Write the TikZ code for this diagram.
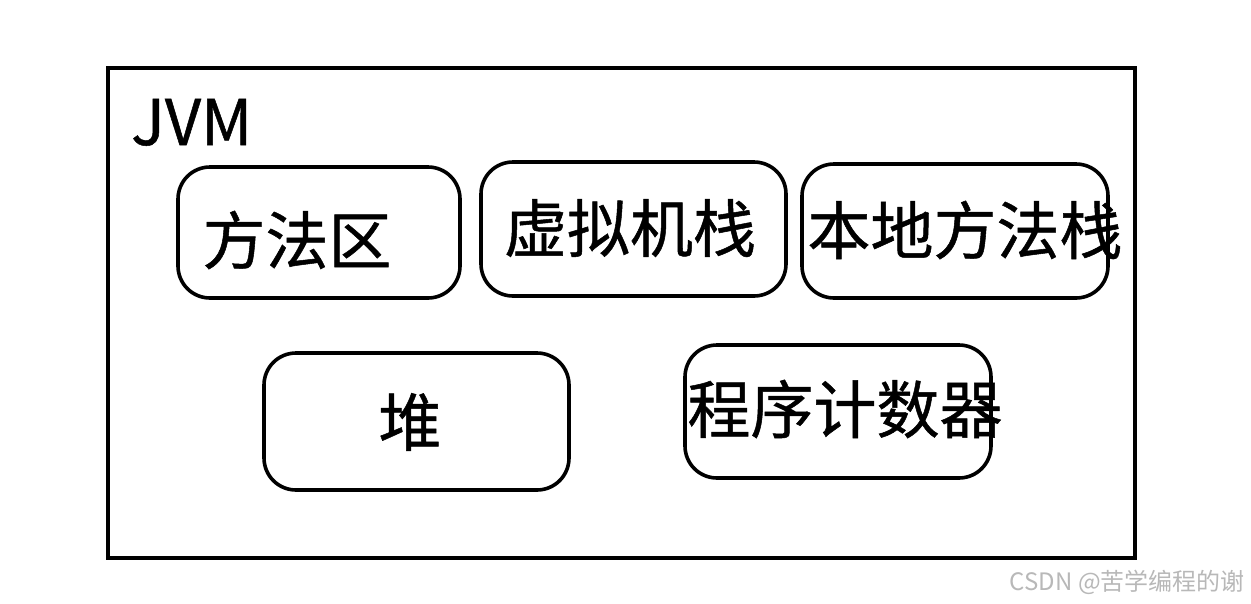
\documentclass[tikz,border=0pt]{standalone}
\usepackage{fontspec}
\setmainfont{Noto Sans CJK SC}
\newfontfamily\jfont{Noto Sans CJK SC}[FakeBold=0.8]
\usetikzlibrary{positioning}
\tikzset{
  jframe/.style ={draw, line width=4pt, inner sep=0pt},
  jarea/.style  ={draw, line width=3.6pt, rounded corners=32pt, inner sep=0pt},
  jtext/.style  ={inner sep=0pt, font=\jfont\fontsize{63}{70}\selectfont},
  jmark/.style  ={inner sep=0pt, text=black!28, font=\fontsize{24}{28}\selectfont},
}

\begin{document}
\begin{tikzpicture}[x=1pt,y=-1pt]
\useasboundingbox (0,0) rectangle (1251,603);

% outer frame
\node[jframe, minimum width=1027pt, minimum height=490pt] (jvm) at (621.5,313) {};
\node[jtext, anchor=base west] (jvmlbl) at (131,145) {JVM};

% memory areas
\node[jarea, minimum width=282pt, minimum height=131pt] (meth)  at (319,232.5) {};
\node[jarea, minimum width=305pt, minimum height=134pt] (vstk)  at (633.5,229) {};
\node[jarea, minimum width=306pt, minimum height=134pt] (nstk)  at (955,231) {};
\node[jarea, minimum width=305pt, minimum height=137pt] (heap)  at (416.5,421.5) {};
\node[jarea, minimum width=306pt, minimum height=133pt] (pc)    at (838,411.5) {};

\node[jtext] (methlbl) at (297,240) {方法区};
\node[jtext] (vstklbl) at (630,228) {虚拟机栈};
\node[jtext] (nstklbl) at (965,230) {本地方法栈};
\node[jtext] (heaplbl) at (410,422) {堆};
\node[jtext] (pclbl)   at (845,409) {程序计数器};

% watermark
\node[jmark, anchor=base east] (mark) at (1245,590) {CSDN @苦学编程的谢};
\end{tikzpicture}
\end{document}
